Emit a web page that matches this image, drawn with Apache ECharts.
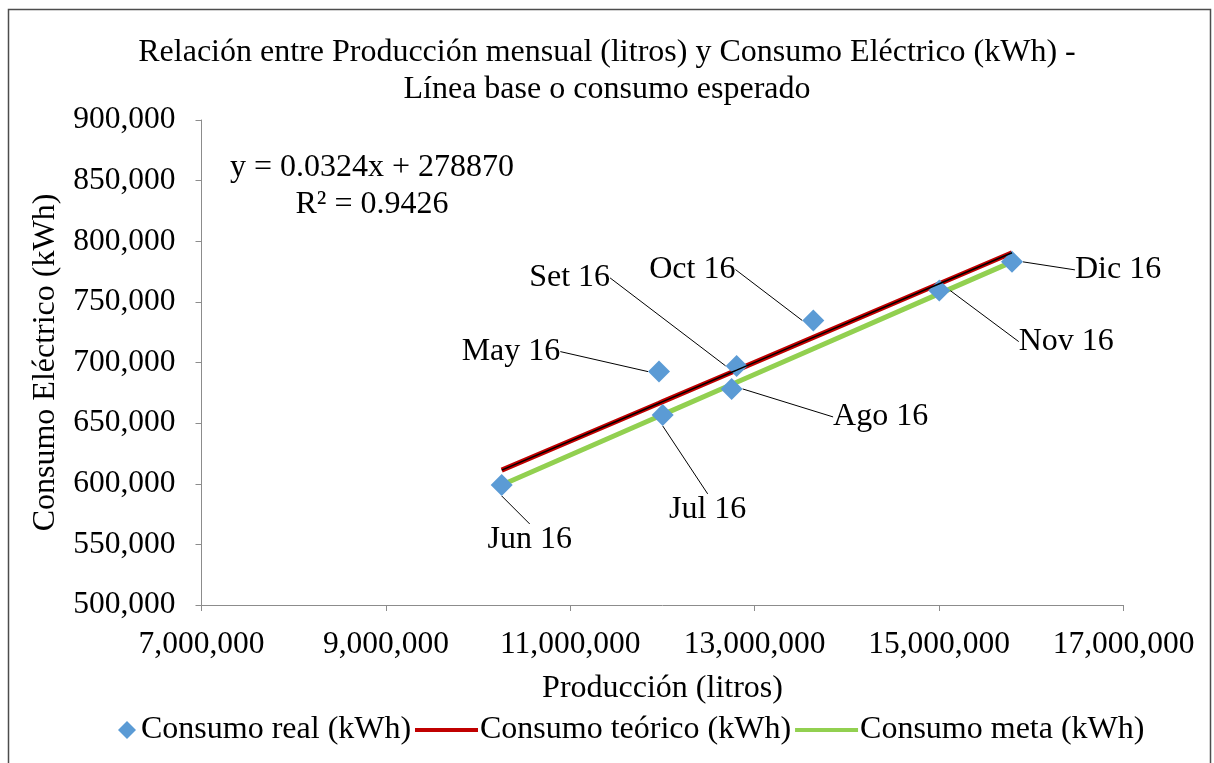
<!DOCTYPE html>
<html>
<head>
<meta charset="utf-8">
<script src="https://cdn.jsdelivr.net/npm/echarts@6/dist/echarts.min.js"></script>
<style>
  html, body { margin: 0; padding: 0; background: #fff; }
  #chart { width: 1214px; height: 763px; }
</style>
</head>
<body>
<div id="chart"></div>
<script>
// Monthly production (litres) and electricity use (kWh), May–Dec 2016
const months = ['May 16', 'Jun 16', 'Jul 16', 'Ago 16', 'Set 16', 'Oct 16', 'Nov 16', 'Dic 16'];
const produccion = [11962000, 10256000, 12002000, 12750000, 12804000, 13636000, 15002000, 15791000];
const consumoReal = [692500, 599000, 656800, 678200, 697200, 734600, 759300, 783000];
const consumoTeorico = [666400, 611200, 667700, 692000, 693700, 720700, 765000, 790500];
const consumoMeta = [655700, 599000, 657000, 681900, 683700, 711400, 756800, 783000];

const xTicks = { min: 7000000, max: 17000000, interval: 2000000 };
const yTicks = { min: 500000, max: 900000, interval: 50000 };

const trendText = ['y = 0.0324x + 278870', 'R\u00B2 = 0.9426'];

// Label offsets (px) from each point to the centre of its month label
const labelOffsets = [
  [-148, -20], [28, 55], [45, 95], [149, 28],
  [-167, -88], [-121, -51], [127, 51], [106, 8]
];

const FONT = "'Liberation Serif', 'Times New Roman', serif";
const FS = 32;
const FS_TICK = 31.5;

// line series are drawn left to right along production
const order = produccion.map((_, i) => i).sort((a, b) => produccion[a] - produccion[b]);
const lineData = vals => order.map(i => [produccion[i], vals[i]]);

const fmt = v => Number(v).toLocaleString('en-US');

const chart = echarts.init(document.getElementById('chart'), null, { renderer: 'canvas' });

chart.setOption({
  backgroundColor: '#fff',
  animation: false,
  textStyle: { fontFamily: FONT, color: '#000' },
  title: {
    text: 'Relación entre Producción mensual (litros) y Consumo Eléctrico (kWh) -\nLínea base o consumo esperado',
    left: 'center',
    top: 29,
    textStyle: { fontFamily: FONT, fontSize: FS, fontWeight: 'normal', color: '#000', lineHeight: 37 }
  },
  grid: { left: 201.5, right: 90.5, top: 120, bottom: 158 },
  legend: [
    {
      data: ['Consumo real (kWh)'],
      left: 118, top: 714, padding: 0,
      icon: 'diamond',
      itemWidth: 18, itemHeight: 18,
      textStyle: { fontFamily: FONT, fontSize: FS, color: '#000' }
    },
    {
      data: [
        { name: 'Consumo teórico (kWh)', icon: 'rect' },
        { name: 'Consumo meta (kWh)', icon: 'rect' }
      ],
      left: 415, top: 714, padding: 0,
      itemWidth: 63, itemHeight: 4, itemGap: 4,
      textStyle: { fontFamily: FONT, fontSize: FS, color: '#000', padding: [0, 0, 0, -3] }
    }
  ],
  xAxis: {
    type: 'value',
    min: xTicks.min, max: xTicks.max, interval: xTicks.interval,
    name: 'Producción (litros)',
    nameLocation: 'middle',
    nameGap: 68,
    nameTextStyle: { fontFamily: FONT, fontSize: FS, color: '#000' },
    axisLine: { show: true, lineStyle: { color: '#8c8c8c', width: 1 } },
    axisTick: { show: true, length: 6, lineStyle: { color: '#8c8c8c' } },
    axisLabel: { margin: 24, fontFamily: FONT, fontSize: FS_TICK, color: '#000', formatter: fmt },
    splitLine: { show: false }
  },
  yAxis: {
    type: 'value',
    min: yTicks.min, max: yTicks.max, interval: yTicks.interval,
    name: 'Consumo Eléctrico (kWh)',
    nameLocation: 'middle',
    nameRotate: 90,
    nameGap: 140,
    nameTextStyle: { fontFamily: FONT, fontSize: FS, color: '#000' },
    axisLine: { show: true, lineStyle: { color: '#8c8c8c', width: 1 } },
    axisTick: { show: true, length: 6, lineStyle: { color: '#8c8c8c' } },
    axisLabel: { margin: 26, fontFamily: FONT, fontSize: FS_TICK, color: '#000', formatter: fmt },
    splitLine: { show: false }
  },
  graphic: [
    {
      type: 'rect', silent: true, z: 100,
      shape: { x: 8.5, y: 9.5, width: 1202, height: 800 },
      style: { fill: 'none', stroke: '#4d4d4d', lineWidth: 1.5 }
    },
    {
      type: 'text', x: 372, y: 168,
      style: { text: trendText[0], font: FS + 'px ' + FONT, fill: '#000', textAlign: 'center', textVerticalAlign: 'middle' }
    },
    {
      type: 'text', x: 372, y: 205,
      style: { text: trendText[1], font: FS + 'px ' + FONT, fill: '#000', textAlign: 'center', textVerticalAlign: 'middle' }
    }
  ],
  series: [
    {
      name: 'Consumo meta (kWh)',
      type: 'line',
      z: 1,
      data: lineData(consumoMeta),
      showSymbol: false, symbol: 'none',
      lineStyle: { color: '#92D050', width: 5 },
      itemStyle: { color: '#92D050' }
    },
    {
      name: 'Consumo teórico (kWh)',
      type: 'line',
      z: 2,
      data: lineData(consumoTeorico),
      showSymbol: false, symbol: 'none',
      lineStyle: { color: '#C00000', width: 5 },
      itemStyle: { color: '#C00000' }
    },
    {
      name: 'Consumo real (kWh)',
      type: 'scatter',
      z: 3,
      symbol: 'diamond',
      symbolSize: 22,
      itemStyle: { color: '#5B9BD5', opacity: 1 },
      data: produccion.map((x, i) => ({ value: [x, consumoReal[i]], name: months[i] })),
      label: {
        show: true,
        position: 'inside',
        formatter: p => months[p.dataIndex],
        fontFamily: FONT, fontSize: FS, color: '#000'
      },
      labelLine: { show: true, lineStyle: { color: '#000', width: 1 } },
      labelLayout: p => ({ dx: labelOffsets[p.dataIndex][0], dy: labelOffsets[p.dataIndex][1] })
    },
    {
      // linear trend line of the measured consumption
      name: 'Lineal',
      type: 'line',
      z: 4,
      data: lineData(consumoTeorico),
      showSymbol: false, symbol: 'none',
      lineStyle: { color: '#000', width: 1.5 },
      silent: true
    }
  ]
});
</script>
</body>
</html>
